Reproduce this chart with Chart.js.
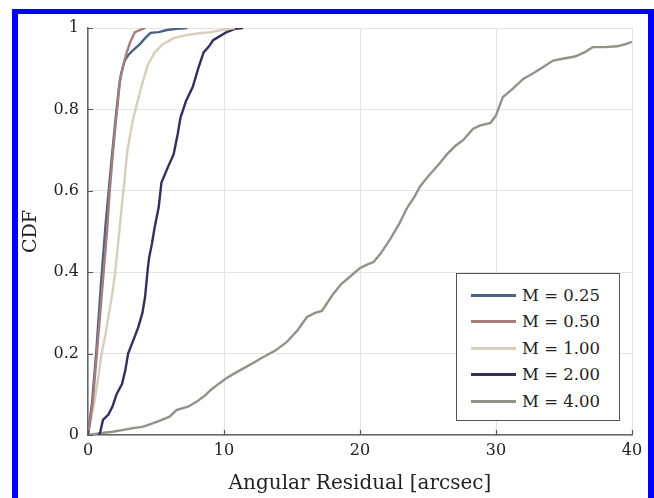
<!DOCTYPE html>
<html>
<head>
<meta charset="utf-8">
<script src="https://cdn.jsdelivr.net/npm/chart.js@4/dist/chart.umd.min.js"></script>
<style>
  html, body { margin: 0; padding: 0; background: #fff; }
  #wrap { position: relative; width: 654px; height: 498px; overflow: hidden; }
  #frame { position: absolute; left: 12px; top: 9px; width: 630px; height: 520px; border: 6px solid #0000ff; border-top-width: 5px; }
  #c { position: absolute; left: 0; top: 0; }
  #legend { position: absolute; left: 456px; top: 273px; width: 164px; height: 148px; border: 1.5px solid #555; background: #fff;
    font-family: "DejaVu Serif", serif; font-size: 16.5px; color: #222; padding-top: 8px; box-sizing: border-box; }
  .row { height: 26.5px; display: flex; align-items: center; }
  .swatch { width: 45px; height: 3px; margin-left: 14px; margin-right: 6px; }
</style>
</head>
<body>
<div id="wrap">
  <div id="frame"></div>
  <canvas id="c" width="654" height="498"></canvas>
  <div id="legend"></div>
</div>
<script>
// values
const seriesNames = ['M = 0.25', 'M = 0.50', 'M = 1.00', 'M = 2.00', 'M = 4.00'];
const seriesColours = ['#4d6283', '#a47e7b', '#d8cebd', '#372e5d', '#8e9588'];

const m025x = [0, 0.3, 0.6, 0.95, 1.3, 1.55, 1.8, 1.95, 2.1, 2.3, 2.45, 2.7, 3.0, 3.3, 3.8, 4.2, 4.6, 5.2, 5.8, 6.5, 7.3];
const m025y = [0, 0.08, 0.2, 0.37, 0.52, 0.61, 0.7, 0.75, 0.8, 0.86, 0.89, 0.92, 0.935, 0.945, 0.96, 0.975, 0.988, 0.99, 0.995, 0.998, 1.0];

const m050x = [0, 0.35, 0.65, 0.9, 1.15, 1.4, 1.6, 1.85, 2.05, 2.2, 2.35, 2.6, 2.85, 3.1, 3.45, 3.8, 4.2];
const m050y = [0, 0.08, 0.2, 0.3, 0.4, 0.5, 0.6, 0.7, 0.77, 0.82, 0.87, 0.91, 0.94, 0.965, 0.99, 0.995, 1.0];

const m100x = [0, 0.5, 0.75, 1.0, 1.3, 1.6, 1.8, 2.0, 2.3, 2.6, 2.9, 3.3, 3.65, 4.0, 4.4, 4.9, 5.5, 6.3, 7.3, 8.2, 9.0, 10.2, 10.8];
const m100y = [0, 0.086, 0.14, 0.2, 0.25, 0.31, 0.35, 0.4, 0.5, 0.6, 0.7, 0.774, 0.82, 0.865, 0.91, 0.94, 0.96, 0.975, 0.983, 0.987, 0.99, 0.997, 1.0];

const m200x = [0.8, 0.9, 1.1, 1.5, 1.8, 2.1, 2.5, 2.75, 2.95, 3.3, 3.7, 4.0, 4.2, 4.4, 4.5, 4.7, 4.9, 5.2, 5.4, 5.9, 6.3, 6.6, 6.8, 7.2, 7.7, 8.1, 8.5, 8.9, 9.2, 9.7, 10.2, 10.8, 11.4];
const m200y = [0, 0.007, 0.037, 0.05, 0.07, 0.1, 0.125, 0.16, 0.2, 0.23, 0.265, 0.3, 0.34, 0.41, 0.437, 0.47, 0.51, 0.56, 0.62, 0.66, 0.69, 0.74, 0.78, 0.82, 0.855, 0.9, 0.94, 0.955, 0.97, 0.98, 0.99, 0.998, 1.0];

const m400x = [0, 1, 1.8, 2.5, 3.3, 4.0, 4.6, 5.2, 6.0, 6.5, 7.4, 8.0, 8.6, 9.0, 9.7, 10.2, 10.8, 11.5, 12.3, 12.8, 13.8, 14.6, 15.4, 16.1, 16.7, 17.2, 18.0, 18.6, 19.3, 20.0, 20.6, 21.0, 21.5, 22.2, 22.9, 23.5, 24.0, 24.4, 25.0, 25.8, 26.4, 27.0, 27.6, 28.3, 28.8, 29.6, 30.0, 30.5, 31.2, 32.0, 32.8, 33.5, 34.2, 35.0, 35.8, 36.5, 37.1, 38.0, 38.9, 39.5, 40];
const m400y = [0, 0.005, 0.008, 0.012, 0.017, 0.02, 0.027, 0.034, 0.045, 0.061, 0.07, 0.082, 0.097, 0.11, 0.128, 0.14, 0.152, 0.165, 0.18, 0.19, 0.208, 0.228, 0.257, 0.29, 0.3, 0.305, 0.345, 0.37, 0.39, 0.41, 0.42, 0.425, 0.445, 0.48, 0.52, 0.56, 0.585, 0.61, 0.635, 0.665, 0.69, 0.71, 0.725, 0.752, 0.76, 0.767, 0.785, 0.83, 0.85, 0.875, 0.89, 0.905, 0.92, 0.925, 0.93, 0.94, 0.953, 0.953, 0.955, 0.96, 0.966];

const xTicks = [0, 10, 20, 30, 40];
const xTickLabels = ['0', '10', '20', '30', '40'];
const yTicks = [0, 0.2, 0.4, 0.6, 0.8, 1];
const yTickLabels = ['0', '0.2', '0.4', '0.6', '0.8', '1'];

const allX = [m025x, m050x, m100x, m200x, m400x];
const allY = [m025y, m050y, m100y, m200y, m400y];
// M = 0.50 sits on top of M = 0.25 in the picture
const drawOrder = [1, 0, 2, 3, 4];

const serif = '"DejaVu Serif", serif';

// MATLAB-style inward ticks on the left and bottom axes
const inwardTicks = {
  id: 'inwardTicks',
  afterDatasetsDraw(chart) {
    const {ctx, chartArea, scales} = chart;
    ctx.save();
    ctx.strokeStyle = '#555';
    ctx.lineWidth = 1.2;
    ctx.beginPath();
    yTicks.forEach(v => {
      const py = Math.round(scales.y.getPixelForValue(v)) + 0.5;
      ctx.moveTo(chartArea.left, py);
      ctx.lineTo(chartArea.left + 5, py);
    });
    xTicks.forEach(v => {
      const px = Math.round(scales.x.getPixelForValue(v)) + 0.5;
      ctx.moveTo(px, chartArea.bottom);
      ctx.lineTo(px, chartArea.bottom - 5);
    });
    ctx.stroke();
    ctx.restore();
  }
};

const datasets = seriesNames.map((name, i) => ({
  label: name,
  data: allX[i].map((x, j) => ({x: x, y: allY[i][j]})),
  borderColor: seriesColours[i],
  borderWidth: 2.4,
  pointRadius: 0,
  tension: 0,
  fill: false,
  order: drawOrder[i]
}));

new Chart(document.getElementById('c'), {
  type: 'line',
  data: {datasets: datasets},
  plugins: [inwardTicks],
  options: {
    responsive: false,
    animation: false,
    layout: {padding: {top: 28, right: 22, left: 0, bottom: 0}},
    plugins: {legend: {display: false}, tooltip: {enabled: false}},
    scales: {
      x: {
        type: 'linear',
        min: 0, max: 40,
        afterBuildTicks: s => { s.ticks = xTicks.map(v => ({value: v})); },
        afterFit: s => { s.height = 63; },
        ticks: {
          callback: (v) => xTickLabels[xTicks.indexOf(v)],
          font: {family: serif, size: 16},
          color: '#222',
          padding: 6,
          maxRotation: 0
        },
        grid: {color: '#e3e3e3', lineWidth: 1, drawTicks: false},
        border: {color: '#666', width: 1.5},
        title: {display: true, text: 'Angular Residual [arcsec]', font: {family: serif, size: 20}, color: '#222', padding: {top: 0, bottom: 2}}
      },
      y: {
        type: 'linear',
        min: 0, max: 1,
        afterBuildTicks: s => { s.ticks = yTicks.map(v => ({value: v})); },
        afterFit: s => { s.width = 88; },
        ticks: {
          callback: (v) => yTickLabels[yTicks.indexOf(v)],
          font: {family: serif, size: 16},
          color: '#222',
          padding: 9
        },
        grid: {color: '#e3e3e3', lineWidth: 1, drawTicks: false},
        border: {color: '#666', width: 1.5},
        title: {display: true, text: 'CDF', font: {family: serif, size: 19}, color: '#222', padding: {top: 20, bottom: 0}}
      }
    }
  }
});

// legend box in the lower right of the plot
const legend = document.getElementById('legend');
seriesNames.forEach((name, i) => {
  const row = document.createElement('div');
  row.className = 'row';
  const sw = document.createElement('div');
  sw.className = 'swatch';
  sw.style.background = seriesColours[i];
  const label = document.createElement('span');
  label.textContent = name;
  row.appendChild(sw);
  row.appendChild(label);
  legend.appendChild(row);
});
</script>
</body>
</html>
